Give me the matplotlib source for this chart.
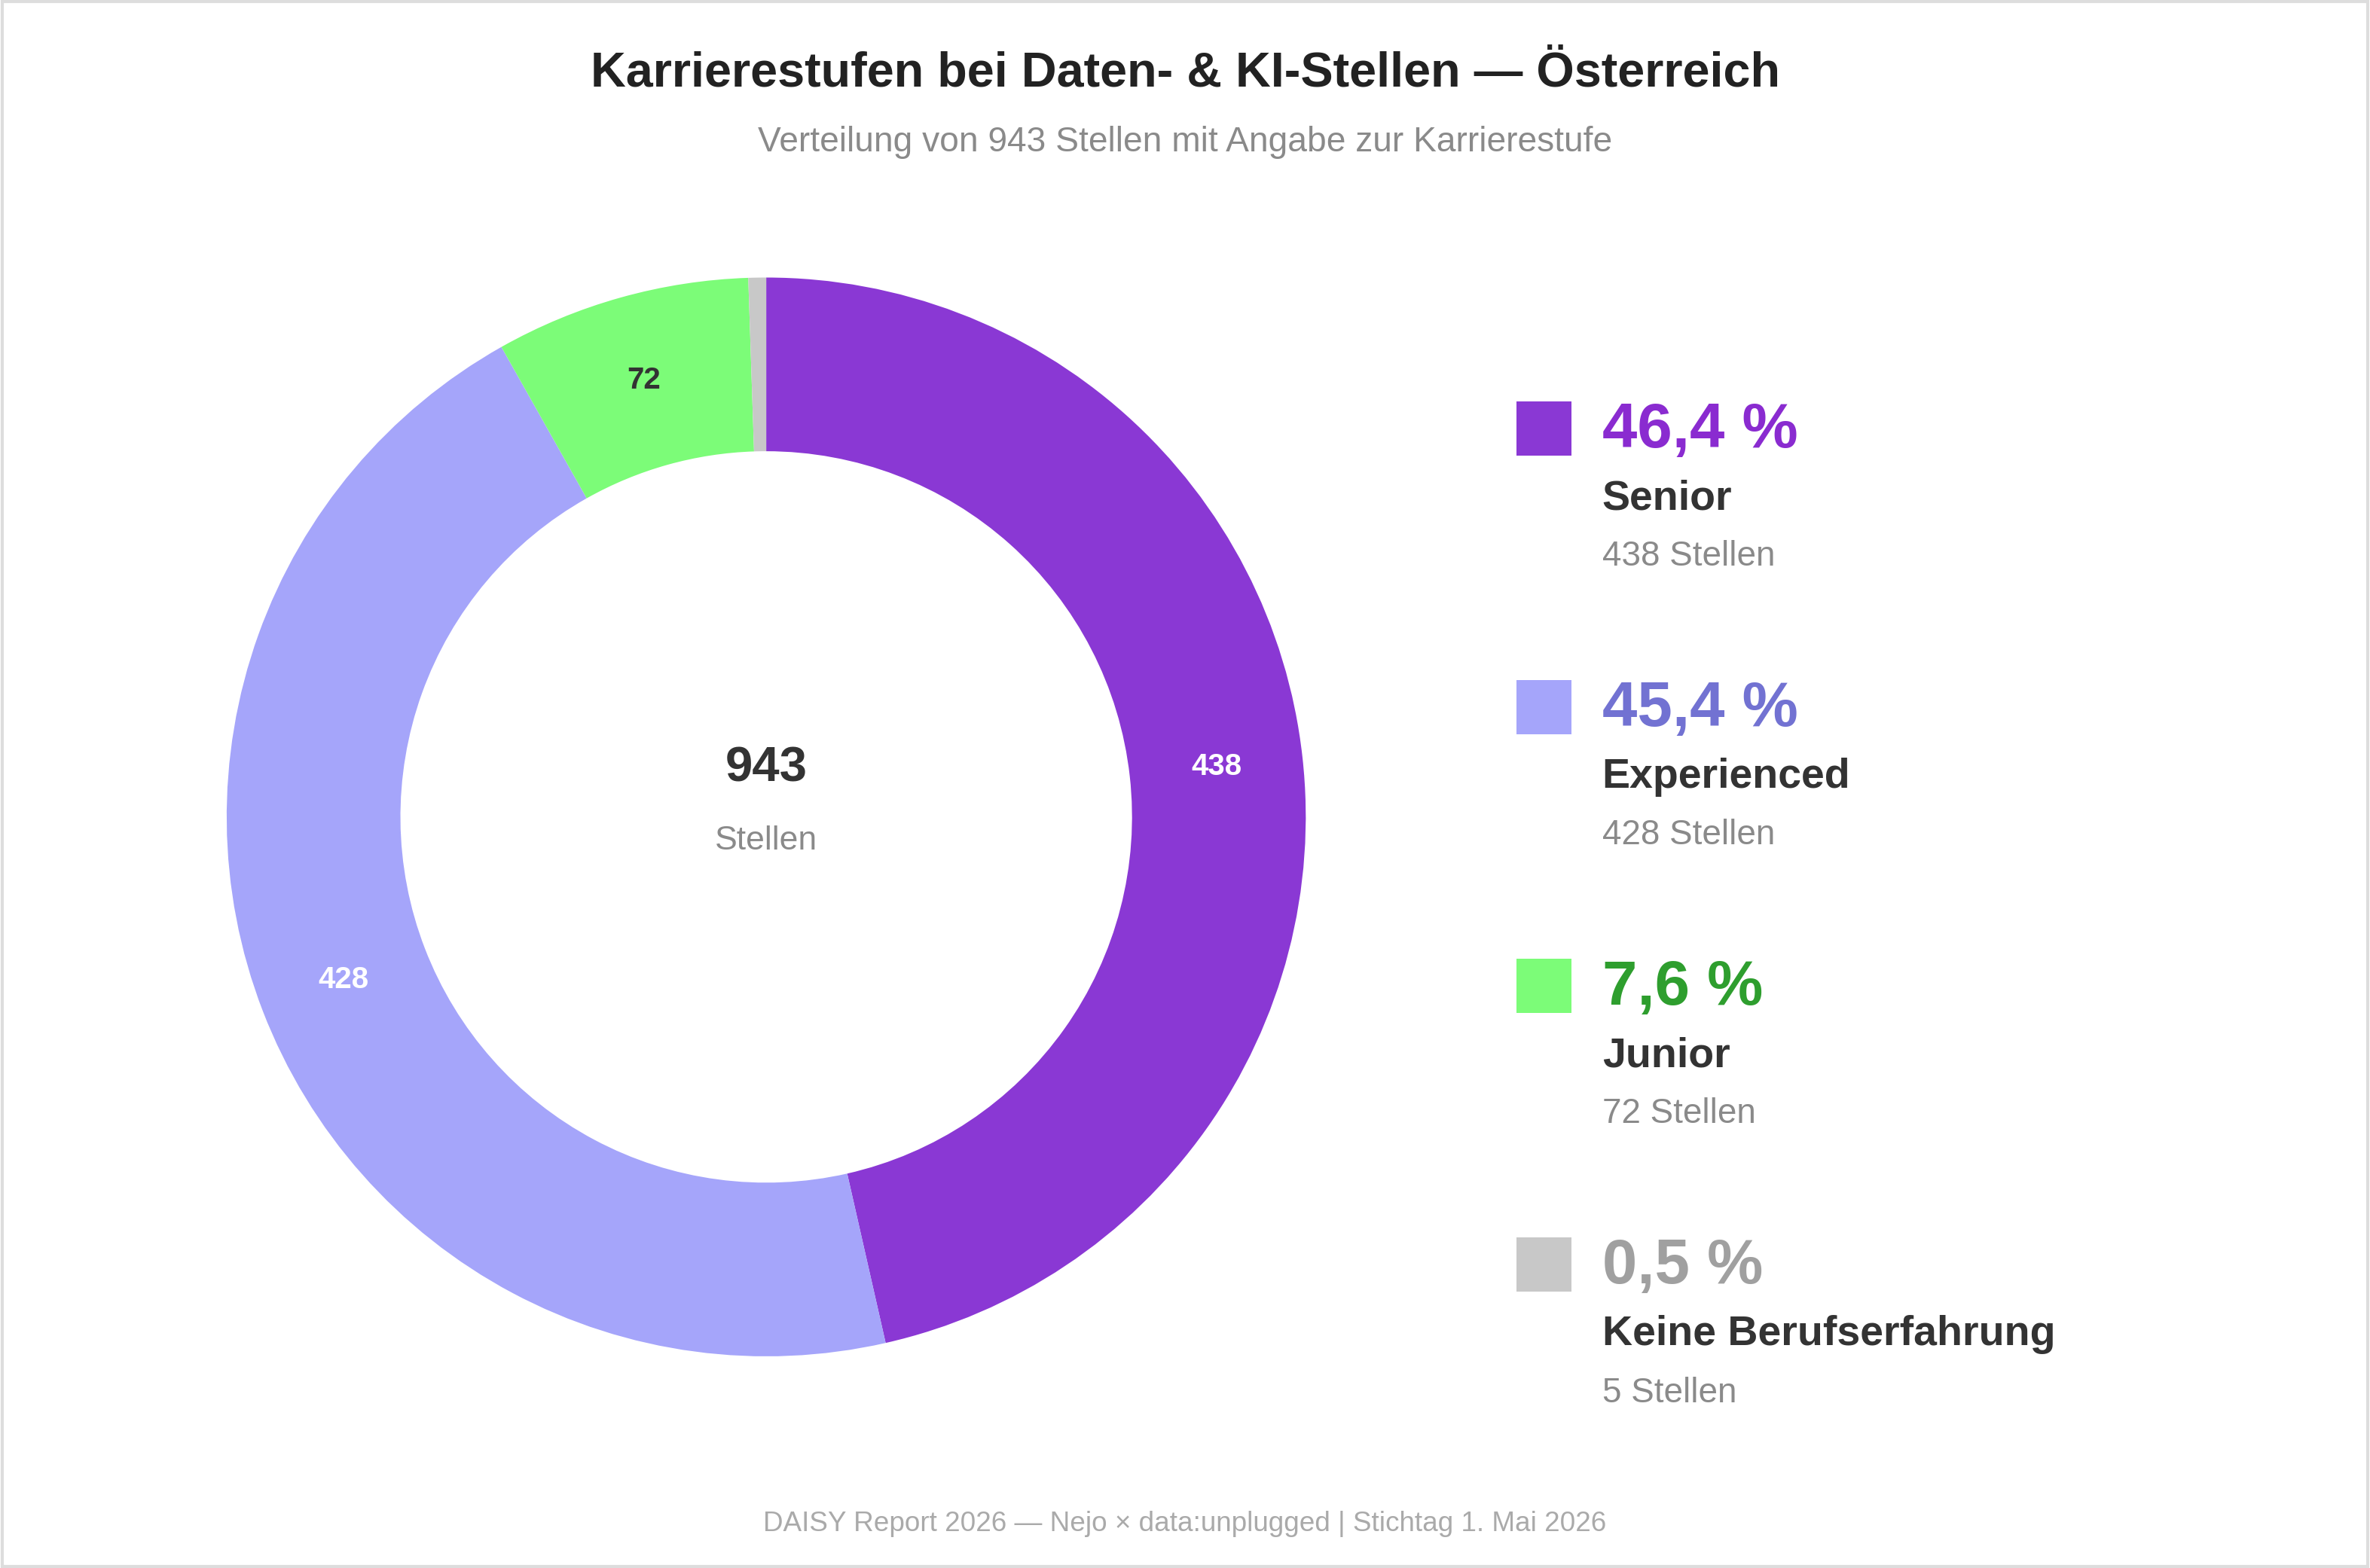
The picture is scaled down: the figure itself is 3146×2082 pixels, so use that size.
import numpy as np
import matplotlib.pyplot as plt
from matplotlib.patches import Rectangle

plt.rcParams['font.family'] = ['Liberation Sans', 'DejaVu Sans']

labels = ["Senior", "Experienced", "Junior", "Keine Berufserfahrung"]
counts = [438, 428, 72, 5]
percents = ["46,4 %", "45,4 %", "7,6 %", "0,5 %"]
colors = ["#8A38D4", "#A5A5FA", "#7CFC78", "#C8C8C8"]
pct_colors = ["#8A2BD0", "#7272D2", "#2E9E2E", "#A0A0A0"]
label_colors = ["white", "white", "#333333", None]
total = sum(counts)

fig = plt.figure(figsize=(15.73, 10.41), dpi=200)
fig.patch.set_facecolor("white")
fig.patches.append(Rectangle((0.001, 0.001), 0.998, 0.998, transform=fig.transFigure,
                             fill=False, edgecolor="#DDDDDD", linewidth=1.5))

fig.text(0.5, 0.953, "Karrierestufen bei Daten- & KI-Stellen \u2014 \u00d6sterreich",
         ha="center", va="center", fontsize=23.3, fontweight="bold", color="#222222")
fig.text(0.5, 0.909, f"Verteilung von {total} Stellen mit Angabe zur Karrierestufe",
         ha="center", va="center", fontsize=16.6, color="#8A8A8A")
fig.text(0.5, 0.028, "DAISY Report 2026 \u2014 Nejo \u00d7 data:unplugged | Stichtag 1. Mai 2026",
         ha="center", va="center", fontsize=13.3, color="#AAAAAA")

ax = fig.add_axes([0.3233 - 0.2277, 0.479 - 0.344, 0.4554, 0.688])
wedges, _ = ax.pie(counts, colors=colors, startangle=90, counterclock=False,
                   radius=1.0, wedgeprops=dict(width=0.322, edgecolor="none"))
ax.set_aspect("equal")
ax.set_xlim(-1, 1)
ax.set_ylim(-1, 1)
ax.axis("off")

for w, n, c in zip(wedges, counts, label_colors):
    if c is None:
        continue
    ang = np.deg2rad((w.theta1 + w.theta2) / 2)
    ax.text(0.84 * np.cos(ang), 0.84 * np.sin(ang), str(n), ha="center", va="center",
            fontsize=14.5, fontweight="bold", color=c)

ax.text(0, 0.09, str(total), ha="center", va="center", fontsize=23.5, fontweight="bold", color="#333333")
ax.text(0, -0.045, "Stellen", ha="center", va="center", fontsize=16, color="#8A8A8A")

# legend block
row_y = 1 - 284 / 1038
step = 184.5 / 1038
for i in range(len(labels)):
    y = row_y - i * step
    fig.patches.append(Rectangle((0.640, y - 0.017), 0.023, 0.0347, transform=fig.transFigure,
                                 facecolor=colors[i], edgecolor="none"))
    fig.text(0.676, y - 0.001, percents[i], ha="left", va="center", fontsize=30,
             fontweight="bold", color=pct_colors[i])
    fig.text(0.676, y - 0.0445, labels[i], ha="left", va="center", fontsize=20,
             fontweight="bold", color="#333333")
    fig.text(0.676, y - 0.0815, f"{counts[i]} Stellen", ha="left", va="center",
             fontsize=16.5, color="#8A8A8A")

fig.savefig("out.png", dpi=200)
